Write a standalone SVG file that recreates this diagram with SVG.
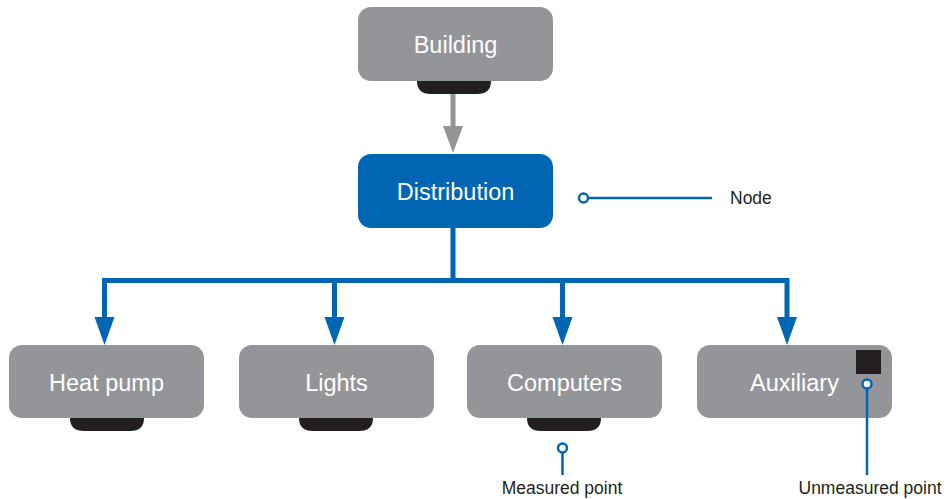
<svg xmlns="http://www.w3.org/2000/svg" width="947" height="499" viewBox="0 0 947 499">
<style>
.box{fill:#939598}
.tab{fill:#231f20}
.lbl{font-family:"Liberation Sans",Arial,sans-serif;font-size:23.5px;fill:#ffffff;text-anchor:middle}
.leg{font-family:"Liberation Sans",Arial,sans-serif;font-size:17.5px;fill:#231f20}
.blue{stroke:#0066b3;stroke-width:5;fill:none}
.thin{stroke:#0066b3;stroke-width:2.5;fill:none}
</style>
<defs>
<path id="tabshape" d="M0,0 H74 V1 Q74,14 60,14 H14 Q0,14 0,1 Z"/>
</defs>
<g id="connectors">
<line x1="453" y1="94" x2="453" y2="128" stroke="#939598" stroke-width="5"/>
<polygon points="443,126 463,126 453,153" fill="#939598"/>
<polyline class="blue" points="453,228 453,280.5"/>
<polyline class="blue" points="104.5,320 104.5,280.5 787,280.5 787,320"/>
<line class="blue" x1="334.5" y1="280.5" x2="334.5" y2="320"/>
<line class="blue" x1="562.5" y1="280.5" x2="562.5" y2="320"/>
<polygon points="94.5,317 114.5,317 104.5,345" fill="#0066b3"/>
<polygon points="324.5,317 344.5,317 334.5,345" fill="#0066b3"/>
<polygon points="552.5,317 572.5,317 562.5,345" fill="#0066b3"/>
<polygon points="777,317 797,317 787,345" fill="#0066b3"/>
</g>
<g id="building">
<use href="#tabshape" x="417" y="80" class="tab"/>
<rect class="box" x="358" y="7" width="195" height="74" rx="13"/>
<text class="lbl" x="455.5" y="53">Building</text>
</g>
<g id="distribution">
<rect x="358" y="154" width="195" height="74" rx="13" fill="#0066b3"/>
<text class="lbl" x="455.5" y="200">Distribution</text>
</g>
<g id="heatpump">
<use href="#tabshape" x="70" y="417" class="tab"/>
<rect class="box" x="9" y="345" width="195" height="73" rx="13"/>
<text class="lbl" x="106.5" y="391">Heat pump</text>
</g>
<g id="lights">
<use href="#tabshape" x="299" y="417" class="tab"/>
<rect class="box" x="239" y="345" width="195" height="73" rx="13"/>
<text class="lbl" x="336.5" y="391">Lights</text>
</g>
<g id="computers">
<use href="#tabshape" x="527" y="417" class="tab"/>
<rect class="box" x="467" y="345" width="195" height="73" rx="13"/>
<text class="lbl" x="564.5" y="391">Computers</text>
</g>
<g id="auxiliary">
<rect class="box" x="697" y="345" width="195" height="73" rx="13"/>
<text class="lbl" x="794.5" y="391">Auxiliary</text>
<rect x="856" y="350" width="25" height="24" fill="#231f20"/>
</g>
<g id="legend-node">
<line class="thin" x1="588" y1="198" x2="712" y2="198"/>
<circle cx="583.5" cy="198" r="4.5" fill="#ffffff" stroke="#0066b3" stroke-width="2.5"/>
<text class="leg" x="730" y="204">Node</text>
</g>
<g id="legend-measured">
<line class="thin" x1="562.5" y1="453" x2="562.5" y2="475"/>
<circle cx="562.5" cy="448" r="4.5" fill="#ffffff" stroke="#0066b3" stroke-width="2.5"/>
<text class="leg" x="562" y="494" text-anchor="middle">Measured point</text>
</g>
<g id="legend-unmeasured">
<line class="thin" x1="867" y1="389" x2="867" y2="475"/>
<circle cx="867" cy="384" r="4.5" fill="#ffffff" stroke="#0066b3" stroke-width="2.5"/>
<text class="leg" x="870" y="494" text-anchor="middle">Unmeasured point</text>
</g>
</svg>
